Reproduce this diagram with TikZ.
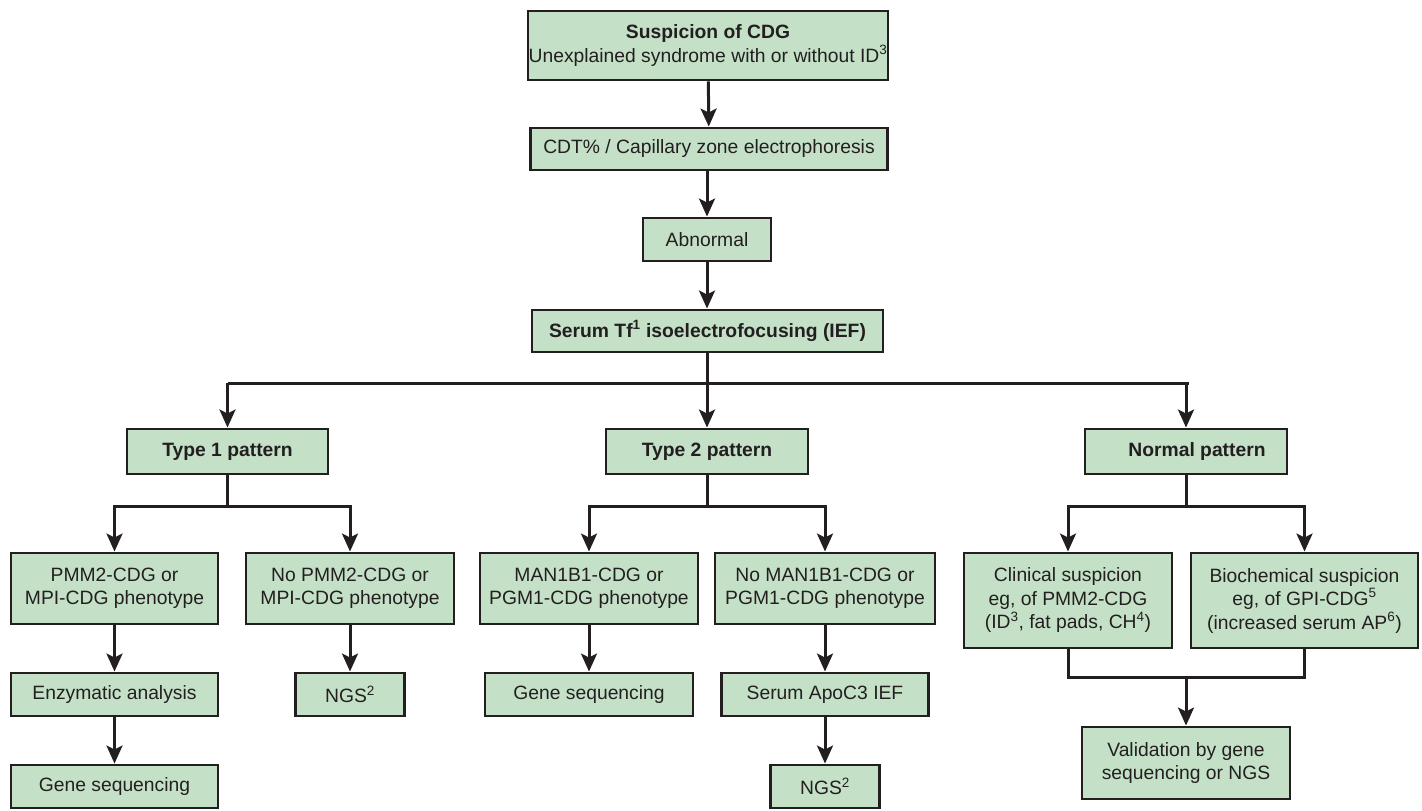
\documentclass[tikz,border=0pt]{standalone}
\usepackage{fontspec}
\setmainfont{Liberation Sans}
\usetikzlibrary{arrows.meta}
\definecolor{boxfill}{RGB}{196,225,199}
\definecolor{ink}{RGB}{35,31,32}
\begin{document}
\begin{tikzpicture}[x=1pt,y=-1pt,
  box/.style={draw=ink, fill=boxfill, line width=2.9pt, align=center, inner sep=0pt,
    text=ink, font=\fontsize{19.3}{23.5}\selectfont},
  conn/.style={draw=ink, line width=3pt},
  arr/.style={conn, -{Stealth[length=18pt,width=16pt,inset=4pt]}}]
\useasboundingbox (0,0) rectangle (1422,811);
% center column
\node[box, minimum width=360pt, minimum height=69pt] (top) at (708,45.5)
  {\textbf{Suspicion of CDG}\\Unexplained syndrome with or without ID\textsuperscript{3}};
\node[box, minimum width=357pt, minimum height=42pt] (cdt) at (709,149)
  {CDT\% / Capillary zone electrophoresis};
\node[box, minimum width=128pt, minimum height=43pt] (abn) at (707,239.5) {Abnormal};
\node[box, minimum width=351pt, minimum height=42pt] (tf) at (707.5,331)
  {\textbf{Serum Tf\textsuperscript{1} isoelectrofocusing (IEF)}};
% patterns
\node[box, minimum width=201pt, minimum height=45pt] (t1) at (227.5,451.5) {\textbf{Type 1 pattern}};
\node[box, minimum width=202pt, minimum height=45pt] (t2) at (707,451.5) {\textbf{Type 2 pattern}};
\node[box, minimum width=202pt, minimum height=45pt] (nm) at (1186,451.5) {\hspace*{22pt}\textbf{Normal pattern}};
% level 3
\node[box, minimum width=207pt, minimum height=71pt] (pmm) at (114.5,588.5) {PMM2-CDG or\\MPI-CDG phenotype};
\node[box, minimum width=208pt, minimum height=71pt] (nopmm) at (350,588.5) {No PMM2-CDG or\\MPI-CDG phenotype};
\node[box, minimum width=218pt, minimum height=71pt] (man) at (589,588.5) {MAN1B1-CDG or\\PGM1-CDG phenotype};
\node[box, minimum width=220pt, minimum height=71pt] (noman) at (825,588.5) {No MAN1B1-CDG or\\PGM1-CDG phenotype};
\node[box, minimum width=208pt, minimum height=95pt] (clin) at (1068,600.5)
  {Clinical suspicion\\eg, of PMM2-CDG\\(ID\textsuperscript{3}, fat pads, CH\textsuperscript{4})};
\node[box, minimum width=227pt, minimum height=95pt] (bio) at (1304.5,600.5)
  {Biochemical suspicion\\eg, of GPI-CDG\textsuperscript{5}\\(increased serum AP\textsuperscript{6})};
% level 4
\node[box, minimum width=207pt, minimum height=43pt] (enz) at (114.5,694.5) {Enzymatic analysis};
\node[box, minimum width=109pt, minimum height=43pt] (ngsa) at (350,694.5) {NGS\textsuperscript{2}};
\node[box, minimum width=208pt, minimum height=43pt] (gsb) at (589,694.5) {Gene sequencing};
\node[box, minimum width=207pt, minimum height=43pt] (apo) at (825,694.5) {Serum ApoC3 IEF};
\node[box, minimum width=208pt, minimum height=72pt] (val) at (1186,763) {Validation by gene\\sequencing or NGS};
% level 5
\node[box, minimum width=207pt, minimum height=43pt] (gsa) at (114.5,786.5) {Gene sequencing};
\node[box, minimum width=109pt, minimum height=43pt] (ngsb) at (825,786.5) {NGS\textsuperscript{2}};
% bus coordinates
\coordinate (bus) at (0,383);
\coordinate (sub) at (0,506);
\coordinate (mrg) at (0,677);
% connectors
\draw[arr] (top) -- (cdt);
\draw[arr] (cdt.south -| abn) -- (abn);
\draw[arr] (abn) -- (tf.north -| abn);
\draw[conn] (tf.south -| abn) -- (abn |- bus);
\draw[conn] (t1.north |- bus) -- ([xshift=3pt]nm.north |- bus);
\draw[arr] (t1.north |- bus) -- (t1.north);
\draw[arr] (t2.north |- bus) -- (t2.north);
\draw[arr] (nm.north |- bus) -- (nm.north);
\draw[arr] (t1.south) -- (t1.south |- sub) -| (pmm.north);
\draw[arr] (t1.south) -- (t1.south |- sub) -| (nopmm.north);
\draw[arr] (t2.south) -- (t2.south |- sub) -| (man.north);
\draw[arr] (t2.south) -- (t2.south |- sub) -| (noman.north);
\draw[arr] (nm.south) -- (nm.south |- sub) -| (clin.north);
\draw[arr] (nm.south) -- (nm.south |- sub) -| (bio.north);
\draw[arr] (pmm) -- (enz);
\draw[arr] (enz) -- (gsa);
\draw[arr] (nopmm) -- (ngsa);
\draw[arr] (man) -- (gsb);
\draw[arr] (noman) -- (apo);
\draw[arr] (apo) -- (ngsb);
\draw[conn] (clin.south) -- (clin.south |- mrg) -| (bio.south);
\draw[arr] (val.north |- mrg) -- (val.north);
\end{tikzpicture}
\end{document}
